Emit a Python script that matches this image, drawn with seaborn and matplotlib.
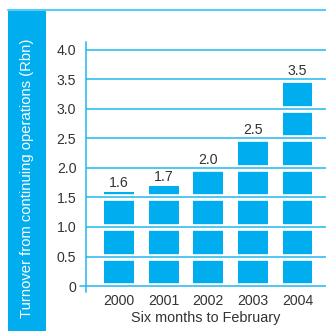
import matplotlib
matplotlib.use("Agg")
import matplotlib.pyplot as plt
import seaborn as sns
import pandas as pd
from matplotlib.patches import Rectangle
from matplotlib.lines import Line2D

years = ["2000", "2001", "2002", "2003", "2004"]
turnover = [1.6, 1.7, 2.0, 2.5, 3.5]
value_labels = ["1.6", "1.7", "2.0", "2.5", "3.5"]
yticks = [0, 0.5, 1.0, 1.5, 2.0, 2.5, 3.0, 3.5, 4.0]
ytick_labels = ["0", "0.5", "1.0", "1.5", "2.0", "2.5", "3.0", "3.5", "4.0"]
ylabel = "Turnover from continuing operations (Rbn)"
xlabel = "Six months to February"

BLUE = "#00AEEF"
GRID = "#22B6EC"
TEXT = "#333333"

sns.set_theme(style="white")
plt.rcParams['font.family'] = ['Liberation Sans', 'DejaVu Sans']

W, H = 326, 331
fig = plt.figure(figsize=(W / 100, H / 100), dpi=100)
fig.patch.set_facecolor("white")

# left blue band and top border
fig.patches.append(Rectangle((8 / W, 0), 38 / W, 321 / H, transform=fig.transFigure,
                             facecolor=BLUE, edgecolor="none", zorder=0))
fig.lines.append(Line2D([8 / W, 1], [321 / H, 321 / H], transform=fig.transFigure,
                        color="#5CCBF3", lw=1.5))
fig.text(27 / W, (H - 178) / H, ylabel, rotation=90, color="white",
         ha="center", va="center", fontsize=10.6)

ax = fig.add_axes([86 / W, 39 / H, 240 / W, 250 / H])
df = pd.DataFrame({"year": years, "turnover": turnover})
sns.barplot(data=df, x="year", y="turnover", color=BLUE, saturation=1,
            width=0.67, linewidth=0, ax=ax, zorder=1)

ax.set_xlim(-0.74, 4.64)
ax.set_ylim(-0.1, 4.13)

for y in yticks:
    ax.axhline(y, color="white", lw=4.8, zorder=2)
    if y == 0:
        ax.axhline(y, xmin=-6 / 240, xmax=1, color=GRID, lw=1.1, zorder=3, clip_on=False)
    else:
        ax.axhline(y, color=GRID, lw=1.1, zorder=3)

for i, (v, lab) in enumerate(zip(turnover, value_labels)):
    ax.annotate(lab, (i, v), xytext=(0, 3), textcoords="offset points",
                ha="center", va="baseline", fontsize=10.2, color=TEXT, zorder=5)

ax.set_yticks(yticks)
ax.set_yticklabels(ytick_labels)
ax.tick_params(axis="y", length=0, pad=7, labelsize=10.2, labelcolor=TEXT)
ax.tick_params(axis="x", length=0, pad=1.5, labelsize=10.2, labelcolor=TEXT)
ax.set_xlabel(xlabel, fontsize=10.4, color=TEXT, labelpad=2)
ax.set_ylabel("")

for s in ["top", "right", "bottom"]:
    ax.spines[s].set_visible(False)
ax.spines["left"].set_color(GRID)
ax.spines["left"].set_linewidth(1.1)
ax.spines["left"].set_zorder(4)
ax.set_facecolor("none")

fig.savefig("out.png", dpi=100)
